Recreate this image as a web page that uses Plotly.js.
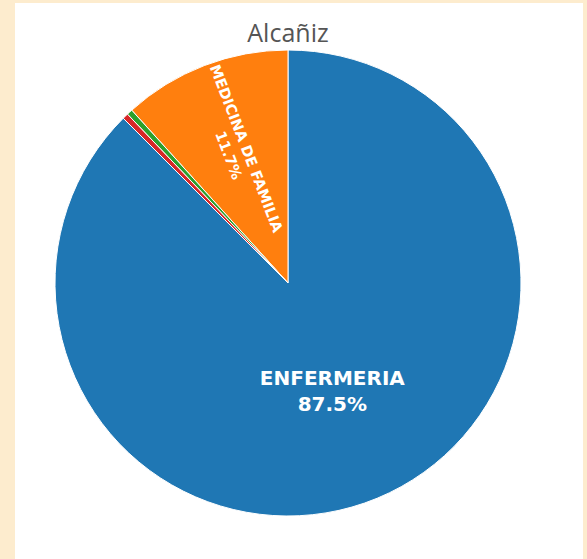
<!DOCTYPE html>
<html>
<head>
<meta charset="utf-8">
<script src="https://cdn.plot.ly/plotly-3.0.1.min.js"></script>
<style>
  html, body { margin: 0; padding: 0; width: 587px; height: 559px; background: #fdecce; overflow: hidden; }
  #chart { position: absolute; left: 15px; top: 3px; width: 568px; height: 556px; background: #ffffff; }
</style>
</head>
<body>
<div id="chart"></div>
<script>
const chartTitle = "Alcañiz";
const labels = ["ENFERMERIA", "MEDICINA DE FAMILIA", "PEDIATRIA", "FISIOTERAPIA"];
const values = [87.5, 11.7, 0.4, 0.4];
const colors = ["#1f77b4", "#ff7f0e", "#2ca02c", "#d62728"];
const shownText = ["%{label}<br>%{percent}", "%{label}<br>%{percent}", "", ""];

const trace = {
  type: "pie",
  labels: labels,
  values: values,
  sort: true,
  direction: "counterclockwise",
  marker: { colors: colors, line: { color: "#ffffff", width: 1 } },
  texttemplate: shownText,
  textposition: "inside",
  insidetextorientation: "auto",
  insidetextfont: { family: "DejaVu Sans, Verdana, sans-serif", size: 20, color: "#ffffff", weight: "bold" },
  hoverinfo: "label+percent",
  showlegend: false
};

const layout = {
  width: 568,
  height: 556,
  margin: { l: 40, r: 62, t: 47, b: 43 },
  paper_bgcolor: "#ffffff",
  plot_bgcolor: "#ffffff",
  font: { family: "Open Sans, DejaVu Sans, sans-serif", color: "#444" },
  title: {
    text: chartTitle,
    font: { family: "Open Sans, DejaVu Sans, sans-serif", size: 25, color: "#555555" },
    x: 273 / 568,
    xanchor: "center",
    xref: "container",
    yref: "container",
    y: 1 - 30 / 556,
    yanchor: "middle"
  },
  showlegend: false
};

Plotly.newPlot("chart", [trace], layout, { displayModeBar: false, staticPlot: true });
</script>
</body>
</html>
